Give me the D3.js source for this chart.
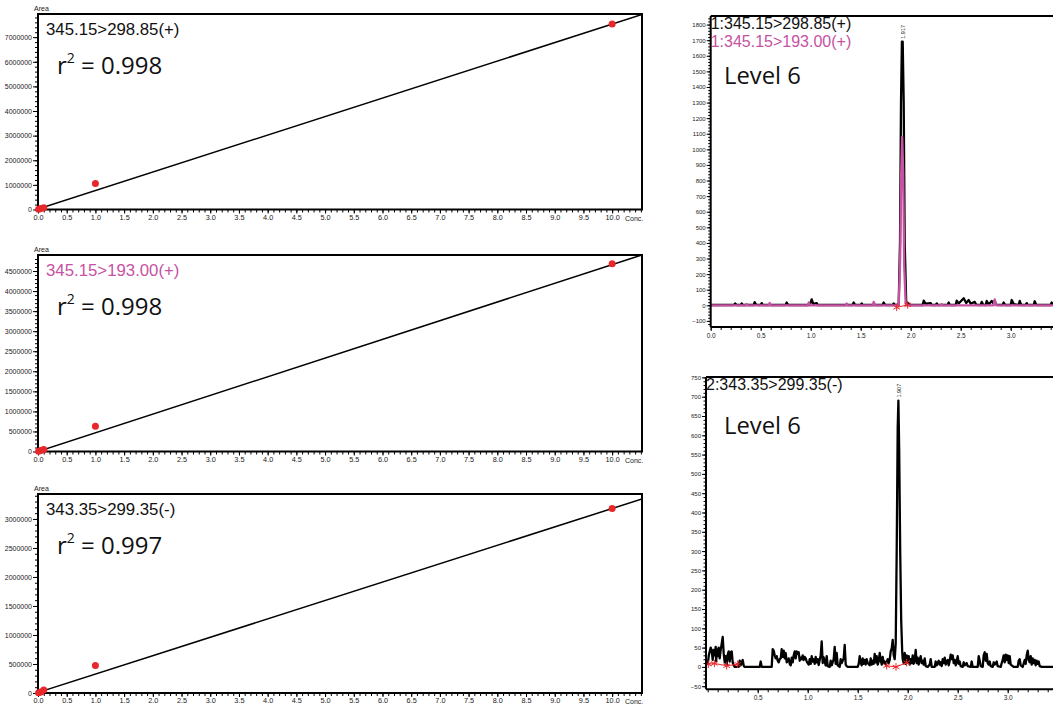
<!DOCTYPE html>
<html><head><meta charset="utf-8">
<script src="https://cdn.jsdelivr.net/npm/d3@7"></script>
<style>body{margin:0;background:#fff}svg{display:block}</style>
</head><body><svg id="c" width="1053" height="706"></svg>
<script>
// ---------- DATA ----------
const concLevels = [0.01, 0.05, 0.1, 1, 10];
const calArea1 = [7500, 38000, 76000, 1060000, 7530000];
const calArea2 = [4700, 24000, 47000, 630000, 4680000];
const calArea3 = [3200, 16000, 50000, 475000, 3180000];
const calSlope = [751000, 466000, 317000];
const calIntercept = [20000, 0, 10000];
const calYMax = [7940000, 4900000, 3430000];
const calYMajor = [1000000, 500000, 500000];
const calYMinor = [200000, 100000, 100000];
const transitions = ["345.15>298.85(+)", "345.15>193.00(+)", "343.35>299.35(-)"];
const rSquared = ["0.998", "0.998", "0.997"];
const concTicks = d3.range(0, 10.01, 0.5);

const chrom1Black = [[0.00,2],[0.23,2],[0.245,12],[0.26,2],[0.30,2],[0.31,12],[0.32,2],[0.43,2],[0.44,20],[0.455,3],[0.50,2],[0.51,14],[0.52,2],[0.75,2],[0.76,18],[0.775,2],[0.99,2],[1.01,38],[1.025,10],[1.06,14],[1.07,2],[1.42,2],[1.43,18],[1.445,2],[1.50,2],[1.51,12],[1.52,2],[1.72,2],[1.73,18],[1.745,2],[1.82,2],[1.83,12],[1.845,2],[1.88,5],[1.893,400],[1.903,1300],[1.912,1690],[1.92,1690],[1.93,1300],[1.94,400],[1.955,20],[1.98,12],[1.99,2],[2.12,2],[2.13,30],[2.15,10],[2.20,14],[2.21,2],[2.25,2],[2.26,12],[2.27,2],[2.37,2],[2.38,18],[2.39,2],[2.45,2],[2.46,30],[2.48,12],[2.53,45],[2.555,15],[2.58,34],[2.60,10],[2.64,22],[2.655,3],[2.70,2],[2.71,22],[2.725,3],[2.75,2],[2.76,28],[2.78,5],[2.81,28],[2.83,10],[2.84,30],[2.855,3],[2.92,2],[2.93,18],[2.945,2],[3.00,2],[3.01,34],[3.03,8],[3.08,2],[3.09,28],[3.105,2],[3.15,2],[3.16,14],[3.17,2],[3.23,2],[3.24,26],[3.255,2],[3.40,2],[3.41,18],[3.425,2],[3.5,2]];
const chrom1Pink = [[0,0],[0.35,0],[0.36,8],[0.37,0],[0.58,0],[0.59,15],[0.60,0],[0.97,0],[0.98,18],[0.995,0],[1.35,0],[1.36,12],[1.37,0],[1.62,0],[1.63,22],[1.645,0],[1.88,0],[1.895,300],[1.905,850],[1.915,1080],[1.925,850],[1.935,250],[1.95,10],[1.96,0],[2.30,0],[2.31,8],[2.32,0],[2.83,0],[2.84,38],[2.855,0],[3.5,0]];
const chrom1Marks = [[1.86,-13],[1.97,3]];
const chrom2Black = [[0.00,5],[0.01,28],[0.02,40],[0.03,50],[0.04,42],[0.05,18],[0.06,44],[0.07,30],[0.08,52],[0.085,15],[0.09,46],[0.10,28],[0.11,50],[0.12,22],[0.13,44],[0.14,60],[0.15,78],[0.16,35],[0.17,12],[0.18,28],[0.19,6],[0.20,32],[0.21,40],[0.22,14],[0.23,38],[0.24,40],[0.25,12],[0.26,4],[0.27,0],[0.31,0],[0.32,16],[0.33,4],[0.35,18],[0.36,3],[0.37,0],[0.52,0],[0.53,14],[0.54,0],[0.64,0],[0.65,46],[0.66,42],[0.67,30],[0.68,22],[0.69,28],[0.70,16],[0.71,12],[0.72,20],[0.73,22],[0.74,46],[0.75,26],[0.76,42],[0.77,22],[0.78,36],[0.79,12],[0.80,16],[0.81,22],[0.82,8],[0.83,4],[0.84,24],[0.85,12],[0.86,30],[0.87,40],[0.88,22],[0.89,40],[0.90,34],[0.91,38],[0.92,16],[0.93,24],[0.94,20],[0.95,30],[0.96,18],[0.97,26],[0.98,22],[0.99,14],[1.00,10],[1.01,6],[1.02,20],[1.03,8],[1.04,28],[1.05,14],[1.06,20],[1.07,8],[1.08,26],[1.09,12],[1.10,20],[1.11,5],[1.12,18],[1.13,30],[1.14,66],[1.15,10],[1.16,25],[1.17,14],[1.18,4],[1.19,28],[1.20,2],[1.22,0],[1.23,16],[1.24,4],[1.26,20],[1.27,52],[1.28,8],[1.29,36],[1.30,4],[1.32,0],[1.33,20],[1.34,10],[1.36,22],[1.37,57],[1.38,6],[1.39,2],[1.40,0],[1.50,0],[1.51,8],[1.52,28],[1.53,12],[1.54,4],[1.55,22],[1.56,8],[1.57,18],[1.58,6],[1.59,20],[1.60,10],[1.62,4],[1.63,22],[1.64,6],[1.65,16],[1.66,8],[1.67,34],[1.68,12],[1.69,28],[1.70,6],[1.71,14],[1.72,36],[1.73,18],[1.74,6],[1.75,26],[1.76,10],[1.77,14],[1.78,6],[1.79,12],[1.80,20],[1.81,10],[1.82,18],[1.83,40],[1.84,48],[1.85,70],[1.86,30],[1.87,20],[1.88,60],[1.89,300],[1.90,620],[1.907,690],[1.915,560],[1.925,300],[1.935,120],[1.945,40],[1.95,20],[1.96,10],[1.97,36],[1.98,8],[1.99,30],[2.00,12],[2.01,28],[2.02,6],[2.03,20],[2.04,10],[2.05,30],[2.06,8],[2.07,18],[2.08,44],[2.09,10],[2.10,24],[2.11,6],[2.12,18],[2.13,28],[2.14,10],[2.15,16],[2.16,6],[2.17,22],[2.18,2],[2.20,0],[2.22,6],[2.23,20],[2.24,0],[2.27,0],[2.28,14],[2.29,4],[2.31,16],[2.32,6],[2.33,12],[2.34,2],[2.35,20],[2.36,10],[2.37,24],[2.38,6],[2.39,14],[2.40,18],[2.41,4],[2.42,16],[2.43,32],[2.44,20],[2.45,30],[2.46,10],[2.47,18],[2.48,4],[2.49,14],[2.50,28],[2.51,8],[2.52,14],[2.53,2],[2.55,0],[2.56,12],[2.57,4],[2.59,10],[2.60,2],[2.63,0],[2.64,14],[2.65,0],[2.70,0],[2.71,28],[2.72,16],[2.73,2],[2.75,0],[2.76,30],[2.77,38],[2.78,16],[2.79,34],[2.80,10],[2.81,6],[2.82,14],[2.83,2],[2.85,0],[2.86,12],[2.87,6],[2.89,14],[2.90,2],[2.93,0],[2.94,10],[2.95,18],[2.96,30],[2.97,12],[2.98,32],[2.99,18],[3.00,30],[3.01,10],[3.02,28],[3.03,6],[3.04,4],[3.06,0],[3.10,0],[3.11,16],[3.12,20],[3.13,4],[3.15,0],[3.17,18],[3.18,8],[3.19,30],[3.20,42],[3.21,18],[3.22,12],[3.23,28],[3.24,6],[3.25,22],[3.26,10],[3.27,18],[3.28,4],[3.29,16],[3.30,8],[3.31,14],[3.32,2],[3.34,0],[3.47,0]];
const chrom2MarksA = [[0.006,7],[0.067,9],[0.19,3],[0.30,7]];
const chrom2MarksB = [[1.79,3],[1.883,0],[1.99,11]];
const chromTitles1 = ["1:345.15>298.85(+)", "1:345.15>193.00(+)"];
const chromTitles2 = ["2:343.35>299.35(-)"];
const peakRT = ["1.917", "1.907"];
const levelLabel = "Level 6";

// ---------- STYLE ----------
const PINK = "#c652a2", RED = "#e8272b";
const LBL = "Liberation Sans, Arial, sans-serif";
const BIG = "Open Sans, sans-serif";
const svg = d3.select("#c");

function styleAxis(g, fs) {
  g.selectAll("path.domain").remove();
  g.selectAll("line").attr("stroke", "#000").attr("stroke-width", 1);
  g.selectAll("text").attr("font-family", LBL).attr("font-size", fs).attr("fill", "#1a1a1a");
}

// ---------- CALIBRATION PANELS ----------
const calBoxes = [
  {l: 38, r: 642, t: 14, b: 209.5},
  {l: 38, r: 642, t: 255, b: 451.5},
  {l: 38, r: 642, t: 494, b: 693}
];
const calAreas = [calArea1, calArea2, calArea3];
calBoxes.forEach((bx, i) => {
  const x = d3.scaleLinear().domain([0, 10.52]).range([bx.l, bx.r]);
  const y = d3.scaleLinear().domain([0, calYMax[i]]).range([bx.b, bx.t]);
  const g = svg.append("g");
  const xm = g.append("g").attr("transform", `translate(0,${bx.b})`)
    .call(d3.axisBottom(x).tickValues(d3.range(0, 10.51, 0.1)).tickSize(3).tickFormat(""));
  styleAxis(xm, 7);
  const xa = g.append("g").attr("transform", `translate(0,${bx.b})`)
    .call(d3.axisBottom(x).tickValues(concTicks).tickSize(4).tickPadding(1).tickFormat(d3.format(".1f")));
  styleAxis(xa, 7.3);
  const ym = g.append("g").attr("transform", `translate(${bx.l},0)`)
    .call(d3.axisLeft(y).tickValues(d3.range(0, calYMax[i], calYMinor[i])).tickSize(3).tickFormat(""));
  styleAxis(ym, 7);
  const ya = g.append("g").attr("transform", `translate(${bx.l},0)`)
    .call(d3.axisLeft(y).tickValues(d3.range(0, calYMax[i], calYMajor[i])).tickSize(5).tickPadding(1).tickFormat(d3.format("d")));
  styleAxis(ya, 7);
  g.append("text").attr("x", bx.r - 17).attr("y", bx.b + 11).attr("font-family", LBL).attr("font-size", 7).attr("fill", "#1a1a1a").text("Conc.");
  g.append("text").attr("x", bx.l - 4).attr("y", bx.t - 3).attr("font-family", LBL).attr("font-size", 7).attr("fill", "#1a1a1a").text("Area");
  g.append("rect").attr("x", bx.l).attr("y", bx.t).attr("width", bx.r - bx.l).attr("height", bx.b - bx.t)
    .attr("fill", "none").attr("stroke", "#000").attr("stroke-width", 2);
  const cp = "cp" + i;
  svg.append("clipPath").attr("id", cp).append("rect").attr("x", bx.l).attr("y", bx.t).attr("width", bx.r - bx.l).attr("height", bx.b - bx.t);
  g.append("line").attr("clip-path", `url(#${cp})`)
    .attr("x1", x(0)).attr("y1", y(calIntercept[i]))
    .attr("x2", x(10.52)).attr("y2", y(calIntercept[i] + calSlope[i] * 10.52))
    .attr("stroke", "#000").attr("stroke-width", 1.5);
  g.selectAll("circle.pt").data(concLevels).enter().append("circle")
    .attr("cx", d => x(d)).attr("cy", (d, j) => y(calAreas[i][j])).attr("r", 3.5).attr("fill", RED);
  g.append("text").attr("x", 46).attr("y", bx.t + 21).attr("font-family", LBL).attr("font-size", 16.8)
    .attr("fill", i === 1 ? PINK : "#111").text(transitions[i]);
  const rt = g.append("text").attr("x", 57).attr("y", bx.t + 60).attr("font-family", BIG).attr("font-size", 24).attr("fill", "#111");
  rt.append("tspan").text("r");
  rt.append("tspan").attr("font-size", 14).attr("dy", -11).text("2");
  rt.append("tspan").attr("dy", 11).text(" = " + rSquared[i]);
});

// ---------- CHROMATOGRAMS ----------
function chrom(opt) {
  const x = d3.scaleLinear().domain(opt.xd).range([opt.l, 1053]);
  const y = d3.scaleLinear().domain(opt.yd).range([opt.b, opt.t]);
  const g = svg.append("g");
  const xm = g.append("g").attr("transform", `translate(0,${opt.b})`)
    .call(d3.axisBottom(x).tickValues(d3.range(Math.ceil(opt.xd[0] * 10) / 10, opt.xd[1], 0.1)).tickSize(3).tickFormat(""));
  styleAxis(xm, 6);
  const xa = g.append("g").attr("transform", `translate(0,${opt.b})`)
    .call(d3.axisBottom(x).tickValues(opt.xt).tickSize(4).tickPadding(2).tickFormat(d3.format(".1f")));
  styleAxis(xa, 6.5);
  const ym = g.append("g").attr("transform", `translate(${opt.l},0)`)
    .call(d3.axisLeft(y).tickValues(d3.range(Math.ceil(opt.yd[0] / opt.ymin) * opt.ymin, opt.yd[1], opt.ymin)).tickSize(2.5).tickFormat(""));
  styleAxis(ym, 6);
  const ya = g.append("g").attr("transform", `translate(${opt.l},0)`)
    .call(d3.axisLeft(y).tickValues(opt.yt).tickSize(4).tickPadding(1).tickFormat(d3.format("d")));
  styleAxis(ya, 6);
  const line = d3.line().x(d => x(d[0])).y(d => y(d[1]));
  const cp = "cc" + opt.id;
  svg.append("clipPath").attr("id", cp).append("rect").attr("x", opt.l).attr("y", opt.t).attr("width", 1053 - opt.l).attr("height", opt.b - opt.t);
  const pg = g.append("g").attr("clip-path", `url(#${cp})`);
  opt.traces.forEach(tr => pg.append("path").datum(tr.d).attr("d", line).attr("fill", "none")
    .attr("stroke", tr.c).attr("stroke-width", 2.3).attr("stroke-linejoin", "round"));
  opt.marks.forEach(m => {
    pg.append("path").datum(m).attr("d", line).attr("fill", "none").attr("stroke", RED).attr("stroke-width", 1);
    pg.selectAll(null).data(m).enter().append("path")
      .attr("transform", d => `translate(${x(d[0])},${y(d[1])})`)
      .attr("d", d3.symbol(d3.symbolAsterisk, 40)).attr("fill", "none").attr("stroke", RED).attr("stroke-width", 1);
  });
  g.append("text").attr("transform", `translate(${x(opt.peak[0]) + 3},${y(opt.peak[1]) - 3}) rotate(-90)`)
    .attr("font-family", LBL).attr("font-size", 5.5).attr("fill", "#222").text(opt.peak[2]);
  g.append("line").attr("x1", opt.l).attr("x2", 1053).attr("y1", opt.t).attr("y2", opt.t).attr("stroke", "#000").attr("stroke-width", 2);
  g.append("line").attr("x1", opt.l).attr("x2", 1053).attr("y1", opt.b).attr("y2", opt.b).attr("stroke", "#000").attr("stroke-width", 2);
  g.append("line").attr("x1", opt.l).attr("x2", opt.l).attr("y1", opt.t).attr("y2", opt.b).attr("stroke", "#000").attr("stroke-width", 2);
  opt.titles.forEach((t, k) => g.append("text").attr("x", opt.l).attr("y", opt.t + 13 + k * 18)
    .attr("font-family", LBL).attr("font-size", 16).attr("fill", k === 0 ? "#111" : PINK).text(t));
  g.append("text").attr("x", 724).attr("y", opt.levelY).attr("font-family", BIG).attr("font-size", 23.8).attr("fill", "#111").text(levelLabel);
}

chrom({id: 1, l: 710.7, t: 16, b: 327, xd: [0, 3.423], yd: [-139, 1855],
  xt: [0, 0.5, 1, 1.5, 2, 2.5, 3], yt: d3.range(-100, 1801, 100), ymin: 20,
  traces: [{d: chrom1Black, c: "#000"}, {d: chrom1Pink, c: PINK}],
  marks: [chrom1Marks], peak: [1.917, 1690, peakRT[0]],
  titles: chromTitles1, levelY: 84});

chrom({id: 2, l: 706, t: 377, b: 689.3, xd: [-0.017, 3.453], yd: [-58, 751],
  xt: [0.5, 1, 1.5, 2, 2.5, 3], yt: d3.range(-50, 751, 50), ymin: 10,
  traces: [{d: chrom2Black, c: "#000"}],
  marks: [chrom2MarksA, chrom2MarksB], peak: [1.907, 690, peakRT[1]],
  titles: chromTitles2, levelY: 434});
</script></body></html>
